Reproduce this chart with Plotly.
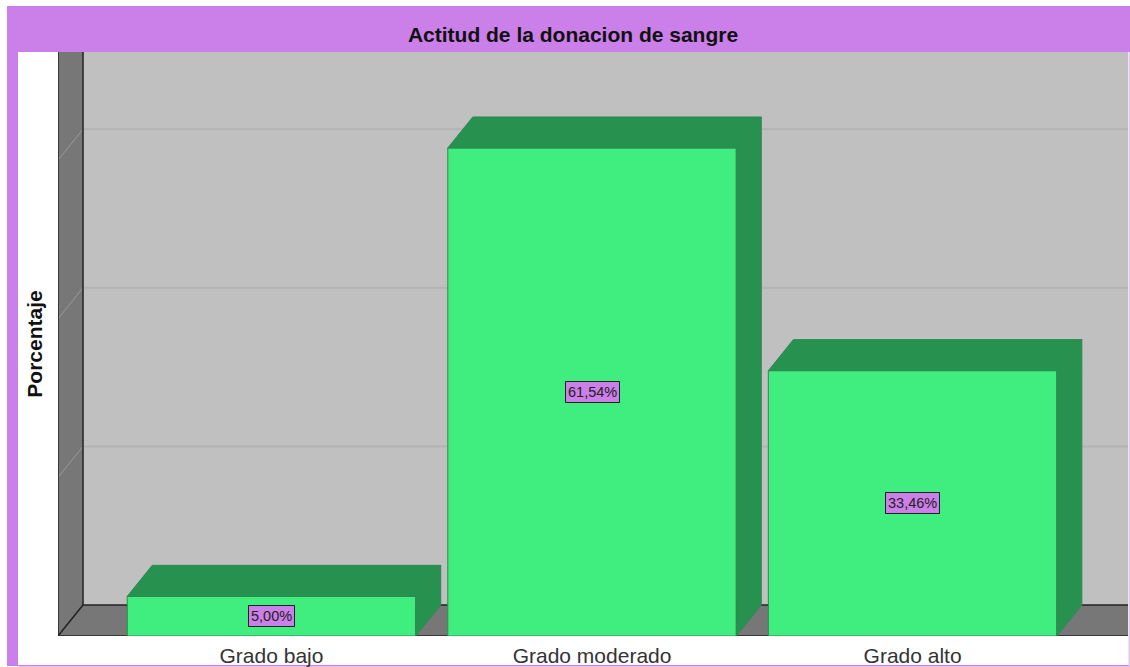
import plotly.graph_objects as go

categories = ["Grado bajo", "Grado moderado", "Grado alto"]
values = [5.00, 61.54, 33.46]
value_labels = ["5,00%", "61,54%", "33,46%"]
grid_values = [20, 40, 60]

GREEN = "#40EE7F"
DARK = "#27914F"
EDGE = "#2E8A52"
PURPLE = "#CB7FE8"
WALL = "#777777"
BACK = "#C0C0C0"
GRID = "#B3B3B3"

W, H = 1130, 667
L, R, T, B = 58, 2, 52, 31
Y_TOP = 73.64
X_MIN, X_MAX = -0.666, 2.672
bar_w = 0.9
dx = 25 / 320.5   # depth in x units
dy = 31 / 7.93    # depth in y units

top_x, top_y, side_x, side_y = [], [], [], []
for i, v in enumerate(values):
    a, b = i - bar_w / 2, i + bar_w / 2
    top_x += [a, a + dx, b + dx, b, a, None]
    top_y += [v, v + dy, v + dy, v, v, None]
    side_x += [b, b + dx, b + dx, b, b, None]
    side_y += [v, v + dy, dy, 0, v, None]

fig = go.Figure()
fig.add_trace(go.Bar(x=list(range(3)), y=values, width=bar_w,
                     marker=dict(color=GREEN, line=dict(color=EDGE, width=1)),
                     hoverinfo="skip", showlegend=False))
fig.add_trace(go.Scatter(x=top_x, y=top_y, mode="lines", fill="toself", fillcolor=DARK,
                         line=dict(color=EDGE, width=1), hoverinfo="skip", showlegend=False))
fig.add_trace(go.Scatter(x=side_x, y=side_y, mode="lines", fill="toself", fillcolor=DARK,
                         line=dict(color=EDGE, width=1), hoverinfo="skip", showlegend=False))

shapes = []
def px(x0, y0, x1, y1, **kw):
    # frame pieces in figure pixels
    shapes.append(dict(type="rect", xref="paper", yref="paper", layer="below",
                       x0=(x0 - L) / (W - L - R), x1=(x1 - L) / (W - L - R),
                       y0=(H - B - y0) / (H - T - B), y1=(H - B - y1) / (H - T - B),
                       line=dict(width=0), **kw))

px(7, 6, 1130, 52, fillcolor=PURPLE)
px(7, 52, 18, 666, fillcolor=PURPLE)
px(18, 665, 1130, 666.5, fillcolor=PURPLE)
px(1128.5, 52, 1130, 666, fillcolor="#E6C3F3")

xl = X_MIN
xb = X_MIN + dx
shapes.append(dict(type="rect", xref="x", yref="y", layer="below", x0=xb, x1=X_MAX, y0=dy, y1=Y_TOP,
                   fillcolor=BACK, line=dict(width=0)))
shapes.append(dict(type="rect", xref="x", yref="y", layer="below", x0=xl, x1=xb, y0=0, y1=Y_TOP,
                   fillcolor=WALL, line=dict(width=0)))
shapes.append(dict(type="rect", xref="x", yref="y", layer="below", x0=xl, x1=X_MAX, y0=0, y1=dy,
                   fillcolor=WALL, line=dict(width=0)))
for g in grid_values:
    shapes.append(dict(type="line", xref="x", yref="y", layer="below", x0=xb, x1=X_MAX, y0=g + dy, y1=g + dy,
                       line=dict(color=GRID, width=2)))
    shapes.append(dict(type="line", xref="x", yref="y", layer="below", x0=xl, x1=xb, y0=g, y1=g + dy,
                       line=dict(color="#999999", width=1)))
for seg in [(xl, 0, xb, dy), (xb, dy, X_MAX, dy), (xb, dy, xb, Y_TOP), (xl, 0, X_MAX, 0), (xl, 0, xl, Y_TOP)]:
    shapes.append(dict(type="line", xref="x", yref="y", layer="below", x0=seg[0], y0=seg[1], x1=seg[2], y1=seg[3],
                       line=dict(color="#222222", width=1.5)))

annotations = [dict(x=i, y=v / 2, text=lab, showarrow=False, bgcolor=PURPLE, bordercolor="#222222",
                    borderwidth=1, borderpad=2, font=dict(family="Liberation Sans", size=14.5, color="#222222"))
               for i, (v, lab) in enumerate(zip(values, value_labels))]

fig.update_layout(
    width=W, height=H, autosize=False,
    margin=dict(l=L, r=R, t=T, b=B, pad=0),
    paper_bgcolor="white", plot_bgcolor="white",
    barmode="overlay", showlegend=False,
    title=dict(text="<b>Actitud de la donacion de sangre</b>", x=573 / W, xanchor="center",
               y=1 - 35 / H, yanchor="middle", automargin=False,
               font=dict(family="Liberation Sans", size=21, color="#111111")),
    xaxis=dict(range=[X_MIN, X_MAX], tickmode="array", tickvals=[0, 1, 2], ticktext=categories,
               automargin=False, showgrid=False, zeroline=False, showline=False, ticks="outside", ticklen=1,
               tickcolor="rgba(0,0,0,0)", tickfont=dict(family="Liberation Sans", size=21, color="#333333")),
    yaxis=dict(range=[0, Y_TOP], automargin=False, showgrid=False, zeroline=False, showline=False, showticklabels=False,
               ticks="", title=dict(text="<b>Porcentaje</b>", standoff=8,
                                    font=dict(family="Liberation Sans", size=21, color="#111111"))),
    shapes=shapes, annotations=annotations,
)

fig.write_html("out.html", default_width="1130px", default_height="667px",
               post_script="document.body.style.margin='0';document.documentElement.style.overflow='hidden';",
               config=dict(displayModeBar=False, responsive=False))
